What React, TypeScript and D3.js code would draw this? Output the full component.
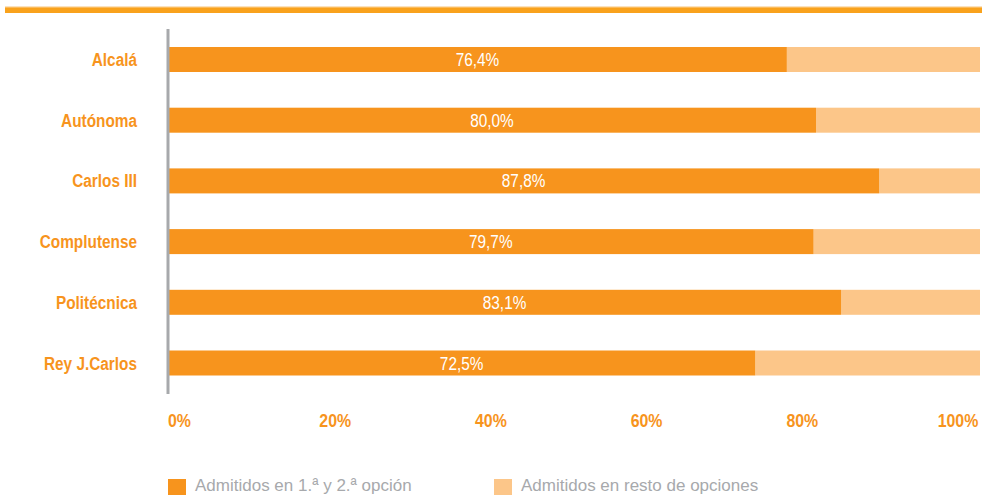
import React from "react";
import * as d3 from "d3";

const categories = ["Alcalá", "Autónoma", "Carlos III", "Complutense", "Politécnica", "Rey J.Carlos"];
const primeraSegunda = [76.4, 80.0, 87.8, 79.7, 83.1, 72.5];
const tickValues = [0, 20, 40, 60, 80, 100];
const seriesNames = ["Admitidos en 1.ª y 2.ª opción", "Admitidos en resto de opciones"];

const ORANGE = "#F7941D";
const LIGHT = "#FCC689";
const GRAY = "#A7A9AC";
const FONT = "'Liberation Sans', Arial, sans-serif";
const SQUEEZE = 0.83;

const fmt = (v: number) => v.toFixed(1).replace(".", ",") + "%";

function Narrow(props: { x: number; y: number; anchor: string; fill: string; bold?: boolean; size: number; sx?: number; children: React.ReactNode }) {
  const { x, y, anchor, fill, bold, size, sx = SQUEEZE, children } = props;
  return (
    <text
      transform={`translate(${x},${y}) scale(${sx},1)`}
      textAnchor={anchor}
      fill={fill}
      fontFamily={FONT}
      fontWeight={bold ? "bold" : "normal"}
      fontSize={size}
    >
      {children}
    </text>
  );
}

export default function App() {
  const W = 982, H = 495;
  const x = d3.scaleLinear().domain([0, 100]).range([168, 978]);
  const xTickLabels = d3.scaleLinear().domain([0, 100]).range([179.5, 958]);
  const y = d3.scalePoint<string>().domain(categories).range([59.5, 363]);
  const barH = 25;

  return (
    <svg width={W} height={H} style={{ position: "absolute", left: 0, top: 0 }}>
      <rect x={0} y={0} width={W} height={H} fill="#fff" />
      {/* top band */}
      <rect x={5} y={6} width={W - 5} height={1.2} fill="#FBE2BD" />
      <rect x={5} y={7.3} width={W - 5} height={5.7} fill="#F9A21C" />

      {/* bars */}
      {categories.map((c, i) => {
        const v = primeraSegunda[i];
        const cy = y(c)!;
        return (
          <g key={c}>
            <rect x={x(v)} y={cy - barH / 2} width={x(100) - x(v) + 2} height={barH} fill={LIGHT} />
            <rect x={x(0)} y={cy - barH / 2} width={x(v) - x(0)} height={barH} fill={ORANGE} />
            <Narrow x={(x(0) + x(v)) / 2} y={cy + 6.5} anchor="middle" fill="#fff" size={18.5}>
              {fmt(v)}
            </Narrow>
            <Narrow x={137} y={cy + 6.5} anchor="end" fill={ORANGE} bold size={18.5}>
              {c}
            </Narrow>
          </g>
        );
      })}

      {/* y axis line */}
      <line x1={x(0)} x2={x(0)} y1={29} y2={394} stroke={GRAY} strokeWidth={3} />

      {/* x tick labels */}
      {tickValues.map((t) => (
        <Narrow key={t} x={xTickLabels(t)} y={427} anchor="middle" fill={ORANGE} bold size={18.5} sx={0.86}>
          {t}%
        </Narrow>
      ))}

      {/* legend */}
      {seriesNames.map((s, i) => {
        const lx = i === 0 ? 168 : 494;
        return (
          <g key={s}>
            <rect x={lx} y={479} width={18} height={18} fill={i === 0 ? ORANGE : LIGHT} />
            <text x={lx + 27} y={491} fill={GRAY} fontFamily={FONT} fontSize={17}>
              {s}
            </text>
          </g>
        );
      })}
    </svg>
  );
}
